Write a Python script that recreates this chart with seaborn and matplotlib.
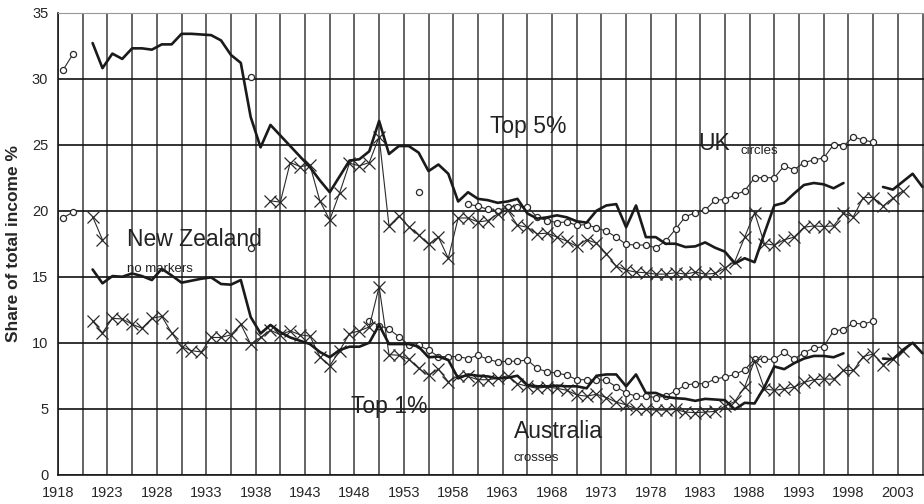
import numpy as np
import pandas as pd
import matplotlib
matplotlib.use('Agg')
import matplotlib.pyplot as plt
import seaborn as sns

# New Zealand (no markers)
nz5_years = list(range(1921, 1998)) + list(range(2001, 2006))
nz5_vals = [32.7, 30.8, 31.9, 31.5, 32.3, 32.3, 32.2, 32.6, 32.6, 33.4,
            33.4, 33.35, 33.3, 32.9, 31.8, 31.2, 27.1, 24.8, 26.5, 25.7,
            24.9, 24.1, 23.3, 22.3, 21.4, 22.6, 23.8, 23.9, 24.5, 26.8,
            24.3, 24.9, 24.9, 24.4, 23.0, 23.5, 22.8, 20.7, 21.4, 20.9,
            20.8, 20.6, 20.7, 20.9, 19.8, 19.4, 19.5, 19.65, 19.5, 19.2,
            19.1, 20.0, 20.4, 20.5, 18.75, 20.4, 18.0, 18.0, 17.5, 17.5,
            17.25, 17.3, 17.6, 17.2, 16.9, 16.0, 16.4, 16.1, 18.3, 20.4,
            20.6, 21.3, 21.95, 22.1, 22.0, 21.7, 22.1,
            21.8, 21.6, 22.2, 22.8, 21.8]
nz1_years = list(range(1921, 1998)) + list(range(2001, 2006))
nz1_vals = [15.55, 14.5, 15.05, 15.0, 15.25, 15.05, 14.75, 15.6, 15.1, 14.55,
            14.7, 14.85, 14.95, 14.45, 14.4, 14.75, 11.95, 10.7, 11.35, 10.8,
            10.4, 10.15, 9.9, 9.3, 8.9, 9.45, 9.7, 9.7, 10.0, 11.35,
            9.9, 9.9, 9.9, 9.7, 8.9, 8.95, 8.7, 7.3, 7.6, 7.5,
            7.45, 7.3, 7.35, 7.5, 6.8, 6.7, 6.7, 6.75, 6.7, 6.7,
            6.55, 7.5, 7.6, 7.6, 6.7, 7.6, 6.2, 6.2, 5.9, 5.8,
            5.75, 5.6, 5.75, 5.7, 5.65, 4.95, 5.45, 5.4, 6.65, 8.2,
            8.0, 8.45, 8.8, 9.0, 9.0, 8.9, 9.2,
            8.8, 8.75, 9.45, 10.0, 9.2]

# UK (circles)
uk5_years = [1918, 1919, 1937, 1954] + list(range(1959, 2001))
uk5_vals = [30.65, 31.85, 30.1, 21.45,
            20.5, 20.35, 20.1, 20.0, 20.3, 20.3, 20.3, 19.5, 19.25, 19.1,
            19.15, 18.9, 18.95, 18.7, 18.45, 18.0, 17.45, 17.4, 17.4, 17.2,
            17.7, 18.6, 19.55, 19.85, 20.05, 20.8, 20.85, 21.2, 21.5, 22.5,
            22.5, 22.5, 23.4, 23.1, 23.65, 23.85, 24.0, 25.0, 24.9, 25.6,
            25.35, 25.2]
uk1_years = [1918, 1919, 1937] + list(range(1949, 2001))
uk1_vals = [19.45, 19.9, 17.2,
            11.65, 11.3, 11.05, 10.45, 9.85, 9.8, 9.45, 8.95, 8.95, 8.95,
            8.8, 9.05, 8.75, 8.55, 8.6, 8.6, 8.7, 8.05, 7.8, 7.7,
            7.55, 7.2, 7.2, 7.2, 7.15, 6.65, 6.2, 5.95, 5.95, 5.85,
            5.95, 6.35, 6.8, 6.9, 6.9, 7.25, 7.4, 7.6, 7.95, 8.75,
            8.75, 8.75, 9.3, 8.75, 9.25, 9.6, 9.7, 10.9, 11.0, 11.5,
            11.4, 11.65]

# Australia (crosses)
au5_years = [1921, 1922] + list(range(1939, 2004))
au5_vals = [19.55, 17.8,
            20.75, 20.65, 23.65, 23.35, 23.45, 20.75, 19.3, 21.35, 23.6, 23.4,
            23.65, 25.6, 18.85, 19.6, 18.8, 18.15, 17.45, 18.0, 16.4, 19.45,
            19.45, 19.15, 19.25, 19.75, 20.05, 18.9, 18.75, 18.25, 18.3, 18.0,
            17.7, 17.3, 17.8, 17.55, 16.75, 15.8, 15.5, 15.35, 15.3, 15.2,
            15.2, 15.3, 15.2, 15.35, 15.2, 15.25, 15.65, 16.15, 18.0, 19.85,
            17.5, 17.4, 17.8, 18.0, 18.75, 18.85, 18.8, 18.85, 19.8, 19.55,
            21.0, 21.0, 20.35, 20.95, 21.5]
au1_years = list(range(1921, 2004))
au1_vals = [11.65, 10.75, 11.85, 11.8, 11.4, 11.1, 11.85, 12.0, 10.75, 9.7,
            9.4, 9.3, 10.4, 10.4, 10.6, 11.4, 9.9, 10.4, 10.95, 10.6,
            10.9, 10.6, 10.5, 8.95, 8.25, 9.4, 10.7, 10.9, 11.2, 14.25,
            9.1, 9.05, 8.75, 8.05, 7.55, 8.0, 7.05, 7.5, 7.45, 7.2,
            7.2, 7.3, 7.5, 6.9, 6.7, 6.55, 6.65, 6.55, 6.4, 6.05,
            5.95, 6.1, 5.85, 5.5, 5.3, 5.0, 4.95, 4.9, 4.9, 4.95,
            4.75, 4.7, 4.75, 4.8, 5.2, 5.55, 6.65, 8.65, 6.5, 6.4,
            6.5, 6.65, 7.0, 7.2, 7.25, 7.25, 7.9, 7.9, 8.95, 9.15,
            8.35, 8.8, 9.35]

tick_years = list(range(1918, 2004, 5))


def to_frame(years, vals):
    df = pd.DataFrame({'year': years, 'share': vals})
    # data sit in the middle of each year's slot
    df['pos'] = df['year'] + 0.5
    df['seg'] = (df['year'].diff().fillna(1) > 1).cumsum()
    return df


sns.set_style('white')
plt.rcParams['font.family'] = ['Liberation Sans Narrow', 'Liberation Sans', 'DejaVu Sans']

fig = plt.figure(figsize=(9.24, 5.04), dpi=100)
ax = fig.add_axes([0.0628, 0.058, 0.9372, 0.9168])

ink = '#1a1a1a'
mark = '#2a2a2a'
nz_style = dict(color=ink, lw=1.9, estimator=None, legend=False)
uk_style = dict(color=mark, lw=0.8, marker='o', ms=4.4, mfc='white',
                mec=mark, mew=0.9, estimator=None, legend=False)
au_style = dict(color=mark, lw=0.8, marker='x', ms=8.5, mec=mark, mew=0.9,
                estimator=None, legend=False)

for yrs, vals, st in [(uk5_years, uk5_vals, uk_style), (uk1_years, uk1_vals, uk_style),
                      (au5_years, au5_vals, au_style), (au1_years, au1_vals, au_style),
                      (nz5_years, nz5_vals, nz_style), (nz1_years, nz1_vals, nz_style)]:
    sns.lineplot(data=to_frame(yrs, vals), x='pos', y='share', units='seg', ax=ax, **st)

ax.set_xlim(1918, 2005.65)
ax.set_ylim(0, 35)
ax.set_xticks(tick_years)
ax.set_xticklabels([str(y) for y in tick_years], fontsize=10.5)
ax.set_xticks(np.arange(1920.5, 2006, 2.5), minor=True)
ax.set_yticks(range(0, 36, 5))
ax.tick_params(axis='y', labelsize=10.5, length=5, width=1, direction='out', color=ink, pad=2)
ax.tick_params(axis='x', which='major', length=5, width=1, direction='out', color=ink, pad=3)
ax.tick_params(axis='x', which='minor', length=0)

ax.xaxis.grid(True, which='both', color='#3a3a3a', lw=1.1)
ax.yaxis.grid(True, color='#111111', lw=1.2)
ax.set_axisbelow(True)

ax.spines['right'].set_visible(False)
ax.spines['top'].set_color('#999999')
ax.spines['left'].set_color(ink)
ax.spines['bottom'].set_color(ink)
ax.spines['left'].set_linewidth(1.2)
ax.spines['bottom'].set_linewidth(1.2)

ax.set_xlabel('')
ax.set_ylabel('Share of total income %', fontsize=12.5, fontweight='bold',
              family=['Liberation Sans', 'DejaVu Sans'])
ax.yaxis.set_label_coords(-0.043, 0.5)

big = 16.5
small = 9.5
ax.text(1961.7, 26.4, 'Top 5%', fontsize=big, va='center', ha='left', color='#222')
ax.text(1982.75, 25.1, 'UK', fontsize=big, va='center', ha='left', color='#222')
ax.text(1987.1, 24.5, 'circles', fontsize=small, va='center', ha='left', color='#222')
ax.text(1925.0, 17.85, 'New Zealand', fontsize=big, va='center', ha='left', color='#222')
ax.text(1925.0, 15.6, 'no markers', fontsize=small, va='center', ha='left', color='#222')
ax.text(1947.7, 5.15, 'Top 1%', fontsize=big, va='center', ha='left', color='#222')
ax.text(1964.1, 3.25, 'Australia', fontsize=big, va='center', ha='left', color='#222')
ax.text(1964.1, 1.3, 'crosses', fontsize=small, va='center', ha='left', color='#222')

fig.savefig('out.png', dpi=100)
